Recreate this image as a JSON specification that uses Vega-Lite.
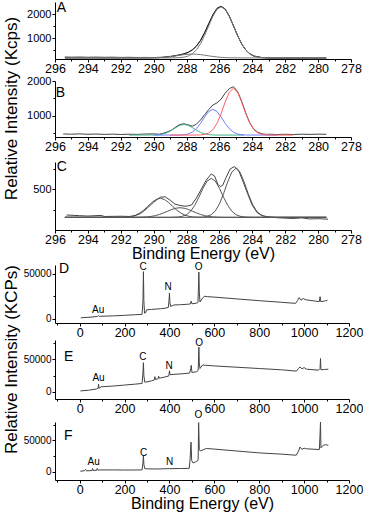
{
"$schema": "https://vega.github.io/schema/vega-lite/v6.json",
"padding": {"left": 1, "top": 0, "right": 0, "bottom": 0},
"background": "white",
"spacing": 0,
"bounds": "flush",
"resolve": {"scale": {"color": "independent"}},
"config": {
  "view": {"stroke": null},
  "font": "Liberation Sans",
  "axis": {"grid": false, "domainColor": "#000", "tickColor": "#000", "labelColor": "#000", "titleColor": "#000", "labelFont": "Liberation Sans", "titleFont": "Liberation Sans", "titleFontWeight": "normal", "domainWidth": 1, "tickWidth": 1},
  "text": {"font": "Liberation Sans", "color": "#000"}
},
"datasets": {
"A": [
{"x":295.4,"y":215,"s":"raw"},{"x":295,"y":205,"s":"raw"},{"x":294.5,"y":212,"s":"raw"},{"x":294,"y":200,"s":"raw"},{"x":293.5,"y":208,"s":"raw"},{"x":293,"y":198,"s":"raw"},{"x":292.5,"y":204,"s":"raw"},{"x":292,"y":192,"s":"raw"},{"x":291.5,"y":198,"s":"raw"},{"x":291,"y":188,"s":"raw"},{"x":290.5,"y":192,"s":"raw"},{"x":290,"y":185,"s":"raw"},{"x":289.5,"y":200,"s":"raw"},{"x":289,"y":235,"s":"raw"},{"x":288.5,"y":290,"s":"raw"},{"x":288.2,"y":335,"s":"raw"},{"x":287.9,"y":400,"s":"raw"},{"x":287.65,"y":505,"s":"raw"},{"x":287.4,"y":660,"s":"raw"},{"x":287.15,"y":900,"s":"raw"},{"x":286.9,"y":1225,"s":"raw"},{"x":286.65,"y":1600,"s":"raw"},{"x":286.4,"y":1960,"s":"raw"},{"x":286.15,"y":2230,"s":"raw"},{"x":285.9,"y":2310,"s":"raw"},{"x":285.65,"y":2200,"s":"raw"},{"x":285.4,"y":1900,"s":"raw"},{"x":285.15,"y":1505,"s":"raw"},{"x":284.9,"y":1100,"s":"raw"},{"x":284.65,"y":750,"s":"raw"},{"x":284.4,"y":495,"s":"raw"},{"x":284.15,"y":330,"s":"raw"},{"x":283.9,"y":240,"s":"raw"},{"x":283.4,"y":175,"s":"raw"},{"x":283,"y":155,"s":"raw"},{"x":282.5,"y":150,"s":"raw"},{"x":282,"y":148,"s":"raw"},{"x":281.5,"y":140,"s":"raw"},{"x":281,"y":145,"s":"raw"},{"x":280.5,"y":138,"s":"raw"},{"x":280,"y":142,"s":"raw"},{"x":279.5,"y":136,"s":"raw"},
{"x":295.4,"y":170,"s":"env"},{"x":291.4,"y":170,"s":"env"},{"x":290.4,"y":171,"s":"env"},{"x":289.9,"y":177,"s":"env"},{"x":289.4,"y":194,"s":"env"},{"x":288.9,"y":232,"s":"env"},{"x":288.4,"y":296,"s":"env"},{"x":288.15,"y":340,"s":"env"},{"x":287.9,"y":403,"s":"env"},{"x":287.65,"y":503,"s":"env"},{"x":287.4,"y":658,"s":"env"},{"x":287.15,"y":897,"s":"env"},{"x":286.9,"y":1220,"s":"env"},{"x":286.65,"y":1598,"s":"env"},{"x":286.4,"y":1965,"s":"env"},{"x":286.15,"y":2234,"s":"env"},{"x":285.9,"y":2324,"s":"env"},{"x":285.65,"y":2208,"s":"env"},{"x":285.4,"y":1911,"s":"env"},{"x":285.15,"y":1515,"s":"env"},{"x":284.9,"y":1108,"s":"env"},{"x":284.65,"y":760,"s":"env"},{"x":284.4,"y":504,"s":"env"},{"x":284.15,"y":343,"s":"env"},{"x":283.9,"y":249,"s":"env"},{"x":283.4,"y":183,"s":"env"},{"x":282.9,"y":171,"s":"env"},{"x":279.5,"y":170,"s":"env"},
{"x":295.4,"y":170,"s":"c1"},{"x":288.9,"y":171,"s":"c1"},{"x":288.4,"y":183,"s":"c1"},{"x":288.15,"y":203,"s":"c1"},{"x":287.9,"y":249,"s":"c1"},{"x":287.65,"y":343,"s":"c1"},{"x":287.4,"y":504,"s":"c1"},{"x":287.15,"y":760,"s":"c1"},{"x":286.9,"y":1107,"s":"c1"},{"x":286.65,"y":1512,"s":"c1"},{"x":286.4,"y":1904,"s":"c1"},{"x":286.15,"y":2194,"s":"c1"},{"x":285.9,"y":2300,"s":"c1"},{"x":285.65,"y":2194,"s":"c1"},{"x":285.4,"y":1904,"s":"c1"},{"x":285.15,"y":1512,"s":"c1"},{"x":284.9,"y":1107,"s":"c1"},{"x":284.65,"y":760,"s":"c1"},{"x":284.4,"y":504,"s":"c1"},{"x":284.15,"y":343,"s":"c1"},{"x":283.9,"y":249,"s":"c1"},{"x":283.65,"y":203,"s":"c1"},{"x":283.4,"y":183,"s":"c1"},{"x":282.9,"y":171,"s":"c1"},{"x":279.5,"y":170,"s":"c1"},
{"x":295.4,"y":170,"s":"c2"},{"x":291.4,"y":170,"s":"c2"},{"x":290.4,"y":171,"s":"c2"},{"x":289.9,"y":177,"s":"c2"},{"x":289.65,"y":184,"s":"c2"},{"x":289.4,"y":194,"s":"c2"},{"x":289.15,"y":210,"s":"c2"},{"x":288.9,"y":231,"s":"c2"},{"x":288.65,"y":256,"s":"c2"},{"x":288.4,"y":283,"s":"c2"},{"x":288.15,"y":307,"s":"c2"},{"x":287.9,"y":324,"s":"c2"},{"x":287.65,"y":330,"s":"c2"},{"x":287.4,"y":324,"s":"c2"},{"x":287.15,"y":307,"s":"c2"},{"x":286.9,"y":283,"s":"c2"},{"x":286.65,"y":256,"s":"c2"},{"x":286.4,"y":231,"s":"c2"},{"x":286.15,"y":210,"s":"c2"},{"x":285.9,"y":194,"s":"c2"},{"x":285.65,"y":184,"s":"c2"},{"x":285.4,"y":177,"s":"c2"},{"x":284.9,"y":171,"s":"c2"},{"x":279.5,"y":170,"s":"c2"}
],
"B": [
{"x":295.5,"y":478,"s":"raw"},{"x":295,"y":470,"s":"raw"},{"x":294.5,"y":480,"s":"raw"},{"x":294,"y":468,"s":"raw"},{"x":293.5,"y":475,"s":"raw"},{"x":293,"y":465,"s":"raw"},{"x":292.5,"y":472,"s":"raw"},{"x":292,"y":462,"s":"raw"},{"x":291.5,"y":470,"s":"raw"},{"x":291,"y":465,"s":"raw"},{"x":290.5,"y":475,"s":"raw"},{"x":290,"y":480,"s":"raw"},{"x":289.65,"y":470,"s":"raw"},{"x":289.4,"y":500,"s":"raw"},{"x":289.15,"y":540,"s":"raw"},{"x":288.9,"y":590,"s":"raw"},{"x":288.65,"y":680,"s":"raw"},{"x":288.4,"y":750,"s":"raw"},{"x":288.15,"y":770,"s":"raw"},{"x":287.9,"y":740,"s":"raw"},{"x":287.65,"y":700,"s":"raw"},{"x":287.4,"y":760,"s":"raw"},{"x":287.15,"y":880,"s":"raw"},{"x":286.9,"y":1030,"s":"raw"},{"x":286.65,"y":1180,"s":"raw"},{"x":286.4,"y":1310,"s":"raw"},{"x":286.15,"y":1370,"s":"raw"},{"x":285.9,"y":1480,"s":"raw"},{"x":285.65,"y":1650,"s":"raw"},{"x":285.4,"y":1780,"s":"raw"},{"x":285.15,"y":1836,"s":"raw"},{"x":284.9,"y":1700,"s":"raw"},{"x":284.65,"y":1420,"s":"raw"},{"x":284.4,"y":1080,"s":"raw"},{"x":284.15,"y":790,"s":"raw"},{"x":283.9,"y":610,"s":"raw"},{"x":283.65,"y":520,"s":"raw"},{"x":283.4,"y":480,"s":"raw"},{"x":283.15,"y":465,"s":"raw"},{"x":282.9,"y":470,"s":"raw"},{"x":282.5,"y":460,"s":"raw"},{"x":282,"y":468,"s":"raw"},{"x":281.5,"y":462,"s":"raw"},{"x":281,"y":470,"s":"raw"},{"x":280.5,"y":465,"s":"raw"},{"x":280,"y":472,"s":"raw"},{"x":279.5,"y":468,"s":"raw"},
{"x":291.5,"y":445,"s":"g"},{"x":289.9,"y":449,"s":"g"},{"x":289.65,"y":459,"s":"g"},{"x":289.4,"y":480,"s":"g"},{"x":289.15,"y":521,"s":"g"},{"x":288.9,"y":586,"s":"g"},{"x":288.65,"y":662,"s":"g"},{"x":288.4,"y":727,"s":"g"},{"x":288.15,"y":752,"s":"g"},{"x":287.9,"y":727,"s":"g"},{"x":287.65,"y":662,"s":"g"},{"x":287.4,"y":586,"s":"g"},{"x":287.15,"y":521,"s":"g"},{"x":286.9,"y":480,"s":"g"},{"x":286.65,"y":459,"s":"g"},{"x":286.4,"y":449,"s":"g"},{"x":286.15,"y":446,"s":"g"},{"x":284.5,"y":445,"s":"g"},
{"x":290,"y":445,"s":"b"},{"x":288.65,"y":446,"s":"b"},{"x":288.4,"y":448,"s":"b"},{"x":288.15,"y":455,"s":"b"},{"x":287.9,"y":478,"s":"b"},{"x":287.65,"y":529,"s":"b"},{"x":287.4,"y":629,"s":"b"},{"x":287.15,"y":783,"s":"b"},{"x":286.9,"y":967,"s":"b"},{"x":286.65,"y":1123,"s":"b"},{"x":286.4,"y":1184,"s":"b"},{"x":286.15,"y":1123,"s":"b"},{"x":285.9,"y":967,"s":"b"},{"x":285.65,"y":783,"s":"b"},{"x":285.4,"y":629,"s":"b"},{"x":285.15,"y":529,"s":"b"},{"x":284.9,"y":478,"s":"b"},{"x":284.65,"y":455,"s":"b"},{"x":284.4,"y":448,"s":"b"},{"x":284.15,"y":446,"s":"b"},{"x":282.5,"y":445,"s":"b"},
{"x":289,"y":445,"s":"r"},{"x":287.4,"y":446,"s":"r"},{"x":287.15,"y":450,"s":"r"},{"x":286.9,"y":464,"s":"r"},{"x":286.65,"y":504,"s":"r"},{"x":286.4,"y":598,"s":"r"},{"x":286.15,"y":780,"s":"r"},{"x":285.9,"y":1061,"s":"r"},{"x":285.65,"y":1396,"s":"r"},{"x":285.4,"y":1678,"s":"r"},{"x":285.15,"y":1790,"s":"r"},{"x":284.9,"y":1678,"s":"r"},{"x":284.65,"y":1396,"s":"r"},{"x":284.4,"y":1061,"s":"r"},{"x":284.15,"y":780,"s":"r"},{"x":283.9,"y":598,"s":"r"},{"x":283.65,"y":504,"s":"r"},{"x":283.4,"y":464,"s":"r"},{"x":283.15,"y":450,"s":"r"},{"x":282.9,"y":446,"s":"r"},{"x":281.5,"y":445,"s":"r"}
],
"C": [
{"x":295.3,"y":183,"s":"raw"},{"x":294.5,"y":175,"s":"raw"},{"x":294,"y":170,"s":"raw"},{"x":293.2,"y":178,"s":"raw"},{"x":293,"y":165,"s":"raw"},{"x":292,"y":168,"s":"raw"},{"x":291.5,"y":165,"s":"raw"},{"x":291.2,"y":170,"s":"raw"},{"x":290.8,"y":200,"s":"raw"},{"x":290.4,"y":265,"s":"raw"},{"x":290,"y":340,"s":"raw"},{"x":289.6,"y":400,"s":"raw"},{"x":289.3,"y":405,"s":"raw"},{"x":289,"y":365,"s":"raw"},{"x":288.7,"y":315,"s":"raw"},{"x":288.4,"y":300,"s":"raw"},{"x":288.1,"y":290,"s":"raw"},{"x":287.9,"y":295,"s":"raw"},{"x":287.7,"y":305,"s":"raw"},{"x":287.4,"y":390,"s":"raw"},{"x":287.1,"y":500,"s":"raw"},{"x":286.8,"y":610,"s":"raw"},{"x":286.5,"y":684,"s":"raw"},{"x":286.3,"y":660,"s":"raw"},{"x":286.1,"y":560,"s":"raw"},{"x":285.95,"y":529,"s":"raw"},{"x":285.8,"y":545,"s":"raw"},{"x":285.6,"y":640,"s":"raw"},{"x":285.35,"y":745,"s":"raw"},{"x":285.1,"y":773,"s":"raw"},{"x":284.85,"y":735,"s":"raw"},{"x":284.6,"y":610,"s":"raw"},{"x":284.3,"y":450,"s":"raw"},{"x":284,"y":300,"s":"raw"},{"x":283.7,"y":210,"s":"raw"},{"x":283.4,"y":175,"s":"raw"},{"x":283,"y":160,"s":"raw"},{"x":282.5,"y":150,"s":"raw"},{"x":281.5,"y":140,"s":"raw"},{"x":281,"y":148,"s":"raw"},{"x":280.5,"y":135,"s":"raw"},{"x":280,"y":138,"s":"raw"},{"x":279.4,"y":132,"s":"raw"},
{"x":295.4,"y":155,"s":"c1"},{"x":292.1,"y":155,"s":"c1"},{"x":291.6,"y":160,"s":"c1"},{"x":291.35,"y":167,"s":"c1"},{"x":291.1,"y":181,"s":"c1"},{"x":290.85,"y":207,"s":"c1"},{"x":290.6,"y":243,"s":"c1"},{"x":290.35,"y":290,"s":"c1"},{"x":290.1,"y":337,"s":"c1"},{"x":289.85,"y":373,"s":"c1"},{"x":289.6,"y":387,"s":"c1"},{"x":289.35,"y":373,"s":"c1"},{"x":289.1,"y":337,"s":"c1"},{"x":288.85,"y":290,"s":"c1"},{"x":288.6,"y":243,"s":"c1"},{"x":288.35,"y":207,"s":"c1"},{"x":288.1,"y":181,"s":"c1"},{"x":287.85,"y":167,"s":"c1"},{"x":287.6,"y":160,"s":"c1"},{"x":287.1,"y":155,"s":"c1"},{"x":279.5,"y":155,"s":"c1"},
{"x":295.4,"y":155,"s":"c2"},{"x":291.4,"y":155,"s":"c2"},{"x":290.9,"y":156,"s":"c2"},{"x":290.4,"y":160,"s":"c2"},{"x":290.15,"y":166,"s":"c2"},{"x":289.9,"y":175,"s":"c2"},{"x":289.65,"y":190,"s":"c2"},{"x":289.4,"y":209,"s":"c2"},{"x":289.15,"y":230,"s":"c2"},{"x":288.9,"y":251,"s":"c2"},{"x":288.65,"y":266,"s":"c2"},{"x":288.4,"y":272,"s":"c2"},{"x":288.15,"y":266,"s":"c2"},{"x":287.9,"y":251,"s":"c2"},{"x":287.65,"y":230,"s":"c2"},{"x":287.4,"y":209,"s":"c2"},{"x":287.15,"y":190,"s":"c2"},{"x":286.9,"y":175,"s":"c2"},{"x":286.65,"y":166,"s":"c2"},{"x":286.4,"y":160,"s":"c2"},{"x":285.9,"y":156,"s":"c2"},{"x":285.4,"y":155,"s":"c2"},{"x":279.5,"y":155,"s":"c2"},
{"x":295.4,"y":155,"s":"c3"},{"x":289,"y":155,"s":"c3"},{"x":288.5,"y":159,"s":"c3"},{"x":288.25,"y":168,"s":"c3"},{"x":288,"y":188,"s":"c3"},{"x":287.75,"y":230,"s":"c3"},{"x":287.5,"y":301,"s":"c3"},{"x":287.25,"y":400,"s":"c3"},{"x":287,"y":509,"s":"c3"},{"x":286.75,"y":597,"s":"c3"},{"x":286.5,"y":631,"s":"c3"},{"x":286.25,"y":597,"s":"c3"},{"x":286,"y":509,"s":"c3"},{"x":285.75,"y":400,"s":"c3"},{"x":285.5,"y":301,"s":"c3"},{"x":285.25,"y":230,"s":"c3"},{"x":285,"y":188,"s":"c3"},{"x":284.75,"y":168,"s":"c3"},{"x":284.5,"y":159,"s":"c3"},{"x":284,"y":155,"s":"c3"},{"x":279.5,"y":155,"s":"c3"},
{"x":295.4,"y":155,"s":"c4"},{"x":287.5,"y":155,"s":"c4"},{"x":287,"y":158,"s":"c4"},{"x":286.75,"y":166,"s":"c4"},{"x":286.5,"y":187,"s":"c4"},{"x":286.25,"y":233,"s":"c4"},{"x":286,"y":318,"s":"c4"},{"x":285.75,"y":443,"s":"c4"},{"x":285.5,"y":587,"s":"c4"},{"x":285.25,"y":706,"s":"c4"},{"x":285,"y":753,"s":"c4"},{"x":284.75,"y":706,"s":"c4"},{"x":284.5,"y":587,"s":"c4"},{"x":284.25,"y":443,"s":"c4"},{"x":284,"y":318,"s":"c4"},{"x":283.75,"y":233,"s":"c4"},{"x":283.5,"y":187,"s":"c4"},{"x":283.25,"y":166,"s":"c4"},{"x":283,"y":158,"s":"c4"},{"x":282.5,"y":155,"s":"c4"},{"x":279.5,"y":155,"s":"c4"}
],
"D": [
{"x":5,"y":800},{"x":50,"y":1600},{"x":78,"y":2300},{"x":84,"y":3300},{"x":88,"y":2500},{"x":150,"y":3000},{"x":200,"y":3600},{"x":250,"y":4300},{"x":278,"y":4700},{"x":282,"y":20000},{"x":284,"y":52500},{"x":286,"y":20000},{"x":289,"y":6000},{"x":294,"y":6500},{"x":298,"y":9800},{"x":320,"y":10200},{"x":340,"y":10600},{"x":360,"y":11000},{"x":380,"y":11500},{"x":395,"y":12500},{"x":398,"y":20000},{"x":400,"y":28500},{"x":402,"y":18000},{"x":405,"y":13500},{"x":420,"y":15200},{"x":450,"y":15500},{"x":480,"y":16000},{"x":492,"y":16200},{"x":497,"y":19500},{"x":500,"y":16500},{"x":520,"y":17200},{"x":527,"y":18000},{"x":530,"y":40000},{"x":531,"y":52000},{"x":533,"y":30000},{"x":536,"y":18500},{"x":545,"y":22000},{"x":555,"y":25000},{"x":570,"y":24500},{"x":600,"y":24000},{"x":700,"y":22000},{"x":800,"y":20000},{"x":900,"y":18200},{"x":962,"y":17000},{"x":970,"y":20000},{"x":978,"y":23500},{"x":986,"y":20500},{"x":996,"y":22500},{"x":1008,"y":21000},{"x":1050,"y":19500},{"x":1068,"y":19000},{"x":1071,"y":24500},{"x":1074,"y":19000},{"x":1090,"y":19500},{"x":1104,"y":20600}
],
"E": [
{"x":3,"y":1500},{"x":40,"y":2500},{"x":75,"y":4500},{"x":82,"y":5500},{"x":84,"y":12000},{"x":86,"y":5500},{"x":95,"y":7800},{"x":150,"y":9000},{"x":200,"y":10500},{"x":250,"y":12000},{"x":278,"y":13000},{"x":282,"y":30000},{"x":284,"y":45000},{"x":286,"y":25000},{"x":290,"y":15000},{"x":300,"y":15500},{"x":320,"y":17000},{"x":333,"y":18500},{"x":335,"y":23500},{"x":338,"y":19000},{"x":350,"y":20500},{"x":352,"y":24000},{"x":355,"y":21000},{"x":380,"y":23000},{"x":397,"y":24500},{"x":400,"y":32500},{"x":403,"y":26500},{"x":420,"y":27000},{"x":460,"y":28000},{"x":490,"y":29000},{"x":495,"y":36000},{"x":497,"y":41000},{"x":500,"y":30000},{"x":520,"y":31000},{"x":528,"y":33000},{"x":530,"y":55000},{"x":531,"y":69000},{"x":533,"y":45000},{"x":536,"y":36000},{"x":548,"y":41500},{"x":560,"y":41000},{"x":600,"y":40000},{"x":700,"y":38000},{"x":800,"y":36000},{"x":900,"y":34000},{"x":965,"y":32000},{"x":975,"y":36000},{"x":982,"y":38500},{"x":990,"y":35500},{"x":1000,"y":37500},{"x":1010,"y":35000},{"x":1064,"y":33500},{"x":1071,"y":36000},{"x":1073,"y":51500},{"x":1075,"y":34000},{"x":1090,"y":34500},{"x":1108,"y":35000}
],
"F": [
{"x":3,"y":1000},{"x":20,"y":1500},{"x":27,"y":3800},{"x":30,"y":1500},{"x":55,"y":2000},{"x":57,"y":5400},{"x":60,"y":2200},{"x":76,"y":2300},{"x":78,"y":5400},{"x":82,"y":2500},{"x":90,"y":3000},{"x":150,"y":3000},{"x":200,"y":2800},{"x":250,"y":2900},{"x":278,"y":3000},{"x":282,"y":15000},{"x":284,"y":26300},{"x":286,"y":12000},{"x":290,"y":5000},{"x":300,"y":4600},{"x":350,"y":4500},{"x":400,"y":5000},{"x":450,"y":5200},{"x":488,"y":5500},{"x":492,"y":20000},{"x":496,"y":47000},{"x":499,"y":18000},{"x":505,"y":14000},{"x":515,"y":15500},{"x":525,"y":17500},{"x":528,"y":20000},{"x":530,"y":78000},{"x":533,"y":35000},{"x":538,"y":33000},{"x":550,"y":35000},{"x":565,"y":37000},{"x":600,"y":36000},{"x":700,"y":33000},{"x":800,"y":30000},{"x":900,"y":28000},{"x":965,"y":26300},{"x":975,"y":33000},{"x":982,"y":39400},{"x":990,"y":35500},{"x":1000,"y":37500},{"x":1010,"y":36500},{"x":1068,"y":35300},{"x":1071,"y":60000},{"x":1073,"y":79000},{"x":1075,"y":38000},{"x":1085,"y":42100},{"x":1095,"y":43000},{"x":1108,"y":42100}
],
"letters": [
{"p":"A","x":295.9,"y":2270,"t":"A"},{"p":"B","x":295.95,"y":1654,"t":"B"},{"p":"C","x":295.9,"y":763,"t":"C"},{"p":"D","x":-92,"y":56000,"t":"D"},{"p":"E","x":-70,"y":53500,"t":"E"},{"p":"F","x":-70,"y":56300,"t":"F"}
],
"notes": [
{"p":"D","x":82,"y":9400,"t":"Au"},{"p":"D","x":283,"y":58000,"t":"C"},{"p":"D","x":394,"y":35700,"t":"N"},{"p":"D","x":530,"y":58000,"t":"O"},
{"p":"E","x":84,"y":21100,"t":"Au"},{"p":"E","x":282,"y":53500,"t":"C"},{"p":"E","x":398,"y":40400,"t":"N"},{"p":"E","x":532,"y":74700,"t":"O"},
{"p":"F","x":62,"y":15300,"t":"Au"},{"p":"F","x":285,"y":30000,"t":"C"},{"p":"F","x":401,"y":15300,"t":"N"},{"p":"F","x":529,"y":90200,"t":"O"}
]
},
"vconcat": [
{
 "width": 296, "height": 59,
 "encoding": {
  "x": {"field": "x", "type": "quantitative", "scale": {"domain": [278, 296], "reverse": true, "nice": false, "zero": false},
        "axis": {"title": null, "values": [296,295,294,293,292,291,290,289,288,287,286,285,284,283,282,281,280,279,278], "format": "d", "labelExpr": "datum.value % 2 === 0 ? datum.label : ''", "tickSize": {"condition": {"test": "datum.value % 2 === 0", "value": 3}, "value": 2}, "labelFontSize": 12.5, "labelPadding": 0, "labelFlush": false, "labelOverlap": false}},
  "y": {"field": "y", "type": "quantitative", "scale": {"domain": [125, 2500], "range": [59, 2], "nice": false, "zero": false},
        "axis": {"title": null, "values": [500,1000,1500,2000], "format": "d", "labelExpr": "datum.value % 1000 === 0 ? datum.label : ''", "tickSize": {"condition": {"test": "datum.value % 1000 === 0", "value": 3}, "value": 2}, "labelFontSize": 11, "labelPadding": 1}}
 },
 "layer": [
  {"data": {"name": "A"}, "mark": {"type": "line", "strokeWidth": 1}, "encoding": {"color": {"field": "s", "type": "nominal", "scale": {"domain": ["c1","c2","raw","env"], "range": ["#777777","#777777","#666666","#111111"]}, "legend": null}}},
  {"data": {"name": "letters"}, "transform": [{"filter": "datum.p === 'A'"}], "mark": {"type": "text", "fontSize": 14, "align": "left", "baseline": "middle"}, "encoding": {"text": {"field": "t"}}}
 ]
},
{
 "width": 296, "height": 78,
 "encoding": {
  "x": {"field": "x", "type": "quantitative", "scale": {"domain": [278, 296], "reverse": true, "nice": false, "zero": false},
        "axis": {"title": null, "values": [296,295,294,293,292,291,290,289,288,287,286,285,284,283,282,281,280,279,278], "format": "d", "labelExpr": "datum.value % 2 === 0 ? datum.label : ''", "tickSize": {"condition": {"test": "datum.value % 2 === 0", "value": 3}, "value": 2}, "labelFontSize": 12.5, "labelPadding": 0, "labelFlush": false, "labelOverlap": false}},
  "y": {"field": "y", "type": "quantitative", "scale": {"domain": [390, 2000], "range": [78, 22], "nice": false, "zero": false},
        "axis": {"title": "Relative Intensity (Kcps)", "titleFontSize": 17, "titleX": -35, "titleY": 49, "values": [500,1000,1500,2000], "format": "d", "labelExpr": "datum.value % 1000 === 0 ? datum.label : ''", "tickSize": {"condition": {"test": "datum.value % 1000 === 0", "value": 3}, "value": 2}, "labelFontSize": 11, "labelPadding": 1}}
 },
 "layer": [
  {"data": {"name": "B"}, "mark": {"type": "line", "strokeWidth": 1}, "encoding": {"color": {"field": "s", "type": "nominal", "scale": {"domain": ["g","b","r","raw"], "range": ["#3fae8c","#6f7dff","#ff6060","#444444"]}, "legend": null}}},
  {"data": {"name": "letters"}, "transform": [{"filter": "datum.p === 'B'"}], "mark": {"type": "text", "fontSize": 14, "align": "left", "baseline": "middle"}, "encoding": {"text": {"field": "t"}}}
 ]
},
{
 "width": 296, "height": 93,
 "encoding": {
  "x": {"field": "x", "type": "quantitative", "scale": {"domain": [278, 296], "reverse": true, "nice": false, "zero": false},
        "axis": {"title": "Binding Energy (eV)", "titleFontSize": 16, "titlePadding": 0, "values": [296,295,294,293,292,291,290,289,288,287,286,285,284,283,282,281,280,279,278], "format": "d", "labelExpr": "datum.value % 2 === 0 ? datum.label : ''", "tickSize": {"condition": {"test": "datum.value % 2 === 0", "value": 3}, "value": 2}, "labelFontSize": 12.5, "labelPadding": 0, "labelFlush": false, "labelOverlap": false}},
  "y": {"field": "y", "type": "quantitative", "scale": {"domain": [0, 830], "range": [93, 25], "nice": false, "zero": false},
        "axis": {"title": null, "values": [250,500,750], "format": "d", "labelExpr": "datum.value === 500 ? datum.label : ''", "tickSize": {"condition": {"test": "datum.value === 500", "value": 3}, "value": 2}, "labelFontSize": 11, "labelPadding": 1}}
 },
 "layer": [
  {"data": {"name": "C"}, "mark": {"type": "line", "strokeWidth": 1}, "encoding": {"color": {"field": "s", "type": "nominal", "scale": {"domain": ["c1","c2","c3","c4","raw"], "range": ["#555555","#555555","#555555","#555555","#444444"]}, "legend": null}}},
  {"data": {"name": "letters"}, "transform": [{"filter": "datum.p === 'C'"}], "mark": {"type": "text", "fontSize": 14, "align": "left", "baseline": "middle"}, "encoding": {"text": {"field": "t"}}}
 ]
},
{
 "width": 294, "height": 93,
 "encoding": {
  "x": {"field": "x", "type": "quantitative", "scale": {"domain": [-110, 1200], "nice": false, "zero": false},
        "axis": {"title": null, "values": [-100,0,100,200,300,400,500,600,700,800,900,1000,1100,1200], "format": "d", "labelExpr": "datum.value % 200 === 0 ? datum.label : ''", "tickSize": {"condition": {"test": "datum.value % 200 === 0", "value": 3}, "value": 2}, "labelFontSize": 12.5, "labelPadding": 0, "labelFlush": false, "labelOverlap": false}},
  "y": {"field": "y", "type": "quantitative", "scale": {"domain": [-5000, 60000], "range": [93, 35], "nice": false, "zero": false},
        "axis": {"title": null, "values": [0,25000,50000], "format": "d", "labelExpr": "datum.value % 50000 === 0 ? datum.label : ''", "tickSize": {"condition": {"test": "datum.value % 50000 === 0", "value": 3}, "value": 2}, "labelFontSize": 10, "labelPadding": 1}}
 },
 "layer": [
  {"data": {"name": "D"}, "mark": {"type": "line", "strokeWidth": 1, "color": "#444444"}},
  {"data": {"name": "letters"}, "transform": [{"filter": "datum.p === 'D'"}], "mark": {"type": "text", "fontSize": 14, "align": "left", "baseline": "middle"}, "encoding": {"text": {"field": "t"}}},
  {"data": {"name": "notes"}, "transform": [{"filter": "datum.p === 'D'"}], "mark": {"type": "text", "fontSize": 10, "align": "center", "baseline": "middle"}, "encoding": {"text": {"field": "t"}}}
 ]
},
{
 "width": 294, "height": 76,
 "encoding": {
  "x": {"field": "x", "type": "quantitative", "scale": {"domain": [-110, 1200], "nice": false, "zero": false},
        "axis": {"title": null, "values": [-100,0,100,200,300,400,500,600,700,800,900,1000,1100,1200], "format": "d", "labelExpr": "datum.value % 200 === 0 ? datum.label : ''", "tickSize": {"condition": {"test": "datum.value % 200 === 0", "value": 3}, "value": 2}, "labelFontSize": 12.5, "labelPadding": 0, "labelFlush": false, "labelOverlap": false}},
  "y": {"field": "y", "type": "quantitative", "scale": {"domain": [-11000, 80000], "range": [76, 17], "nice": false, "zero": false},
        "axis": {"title": "Relative Intensity (KCPs)", "titleFontSize": 17, "titleX": -35, "titleY": 36, "values": [0,25000,50000,75000], "format": "d", "labelExpr": "datum.value % 50000 === 0 ? datum.label : ''", "tickSize": {"condition": {"test": "datum.value % 50000 === 0", "value": 3}, "value": 2}, "labelFontSize": 10, "labelPadding": 1}}
 },
 "layer": [
  {"data": {"name": "E"}, "mark": {"type": "line", "strokeWidth": 1, "color": "#444444"}},
  {"data": {"name": "letters"}, "transform": [{"filter": "datum.p === 'E'"}], "mark": {"type": "text", "fontSize": 14, "align": "left", "baseline": "middle"}, "encoding": {"text": {"field": "t"}}},
  {"data": {"name": "notes"}, "transform": [{"filter": "datum.p === 'E'"}], "mark": {"type": "text", "fontSize": 10, "align": "center", "baseline": "middle"}, "encoding": {"text": {"field": "t"}}}
 ]
},
{
 "width": 294, "height": 81,
 "encoding": {
  "x": {"field": "x", "type": "quantitative", "scale": {"domain": [-110, 1200], "nice": false, "zero": false},
        "axis": {"title": "Binding Energy (eV)", "titleFontSize": 16, "titlePadding": 0, "values": [-100,0,100,200,300,400,500,600,700,800,900,1000,1100,1200], "format": "d", "labelExpr": "datum.value % 200 === 0 ? datum.label : ''", "tickSize": {"condition": {"test": "datum.value % 200 === 0", "value": 3}, "value": 2}, "labelFontSize": 12.5, "labelPadding": 0, "labelFlush": false, "labelOverlap": false}},
  "y": {"field": "y", "type": "quantitative", "scale": {"domain": [-13000, 79000], "range": [81, 23], "nice": false, "zero": false},
        "axis": {"title": null, "values": [0,25000,50000,75000], "format": "d", "labelExpr": "datum.value % 50000 === 0 ? datum.label : ''", "tickSize": {"condition": {"test": "datum.value % 50000 === 0", "value": 3}, "value": 2}, "labelFontSize": 10, "labelPadding": 1}}
 },
 "layer": [
  {"data": {"name": "F"}, "mark": {"type": "line", "strokeWidth": 1, "color": "#444444"}},
  {"data": {"name": "letters"}, "transform": [{"filter": "datum.p === 'F'"}], "mark": {"type": "text", "fontSize": 14, "align": "left", "baseline": "middle"}, "encoding": {"text": {"field": "t"}}},
  {"data": {"name": "notes"}, "transform": [{"filter": "datum.p === 'F'"}], "mark": {"type": "text", "fontSize": 10, "align": "center", "baseline": "middle"}, "encoding": {"text": {"field": "t"}}}
 ]
}
]
}
